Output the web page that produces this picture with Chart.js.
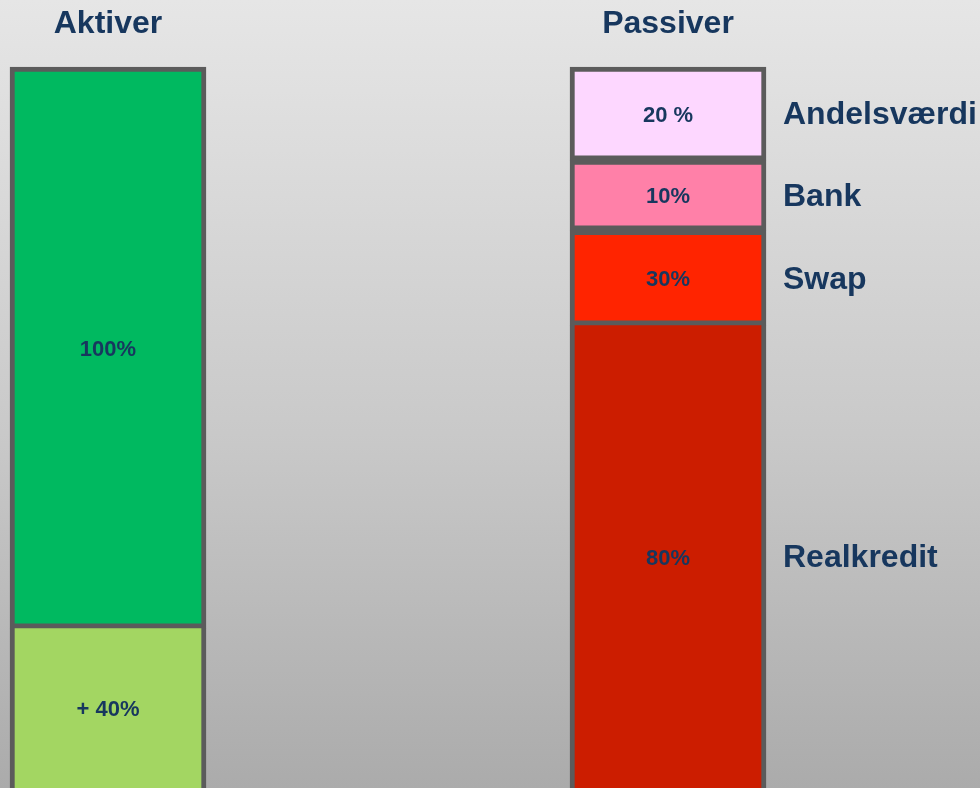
<!DOCTYPE html>
<html>
<head>
<meta charset="utf-8">
<script src="https://cdn.jsdelivr.net/npm/chart.js@4"></script>
<style>
    html, body { margin: 0; padding: 0; }
    body {
        width: 980px;
        height: 788px;
        overflow: hidden;
        background: linear-gradient(to bottom, #e6e6e6 0%, #c9c9c9 55%, #ababab 100%);
    }
    canvas { display: block; }
</style>
</head>
<body>
<canvas id="myChart" width="980" height="788"></canvas>
<script>
// kategorier (to søjler)
const categories = ['Aktiver', 'Passiver'];

// Aktiver: tekst i feltet + tegnet højde (100 = hele aktivfeltet)
const aktiverText = ['100%', '+ 40%'];
const aktiverValues = [100, 40];

// Passiver: navn til højre, tekst i feltet, tegnet højde (samme enhed som aktiver)
const passiverNames = ['Andelsværdi', 'Bank', 'Swap', 'Realkredit'];
const passiverText = ['20 %', '10%', '30%', '80%'];
const passiverValues = [16.6, 12.5, 16.9, 85];

const aktiverColors = ['#00B960', '#A3D662'];
const passiverColors = ['#FDD7FF', '#FF80A8', '#FF2400', '#CC1D00'];
const borderColor = '#5B5B5B';
const textColor = '#17375E';

const datasets = [];
aktiverValues.forEach(function (v, i) {
    datasets.push({
        label: aktiverText[i],
        data: [v, null],
        backgroundColor: aktiverColors[i],
        borderColor: borderColor,
        borderWidth: 5,
        borderSkipped: i === 0 ? false : 'start',
        inside: aktiverText[i],
        side: ''
    });
});
passiverValues.forEach(function (v, i) {
    datasets.push({
        label: passiverNames[i],
        data: [null, v],
        backgroundColor: passiverColors[i],
        borderColor: borderColor,
        borderWidth: 5,
        borderSkipped: i < 3 ? false : 'start',
        inside: passiverText[i],
        side: passiverNames[i]
    });
});

const labelPlugin = {
    id: 'labelPlugin',
    afterDatasetsDraw(chart) {
        const ctx = chart.ctx;
        const area = chart.chartArea;
        const xScale = chart.scales.x;
        ctx.save();
        ctx.fillStyle = textColor;
        ctx.textBaseline = 'middle';

        // overskrifter over søjlerne
        ctx.font = 'bold 32px "Liberation Sans", Arial, sans-serif';
        ctx.textAlign = 'center';
        categories.forEach(function (c, i) {
            ctx.fillText(c, xScale.getPixelForValue(i), 24);
        });

        chart.data.datasets.forEach(function (ds, di) {
            const meta = chart.getDatasetMeta(di);
            meta.data.forEach(function (bar, idx) {
                if (ds.data[idx] == null) return;
                const p = bar.getProps(['x', 'y', 'base'], true);
                const top = Math.min(p.y, p.base);
                const bottom = Math.min(Math.max(p.y, p.base), area.bottom);
                const cy = (top + bottom) / 2 + 2;
                ctx.font = 'bold 22px "Liberation Sans", Arial, sans-serif';
                ctx.textAlign = 'center';
                ctx.fillText(ds.inside, p.x, cy);
                if (ds.side) {
                    ctx.font = 'bold 32px "Liberation Sans", Arial, sans-serif';
                    ctx.textAlign = 'left';
                    ctx.fillText(ds.side, p.x + 115, cy);
                }
            });
        });
        ctx.restore();
    }
};

const ctx = document.getElementById('myChart');
new Chart(ctx, {
    type: 'bar',
    data: {
        labels: categories,
        datasets: datasets
    },
    options: {
        responsive: false,
        animation: false,
        barThickness: 196,
        clip: false,
        layout: {
            padding: { top: 67, left: 108, right: 312, bottom: 0 }
        },
        scales: {
            x: {
                stacked: true,
                offset: false,
                display: false
            },
            y: {
                stacked: true,
                reverse: true,
                min: 0,
                max: 128.5,
                display: false
            }
        },
        plugins: {
            legend: { display: false },
            tooltip: { enabled: false }
        }
    },
    plugins: [labelPlugin]
});
</script>
</body>
</html>
